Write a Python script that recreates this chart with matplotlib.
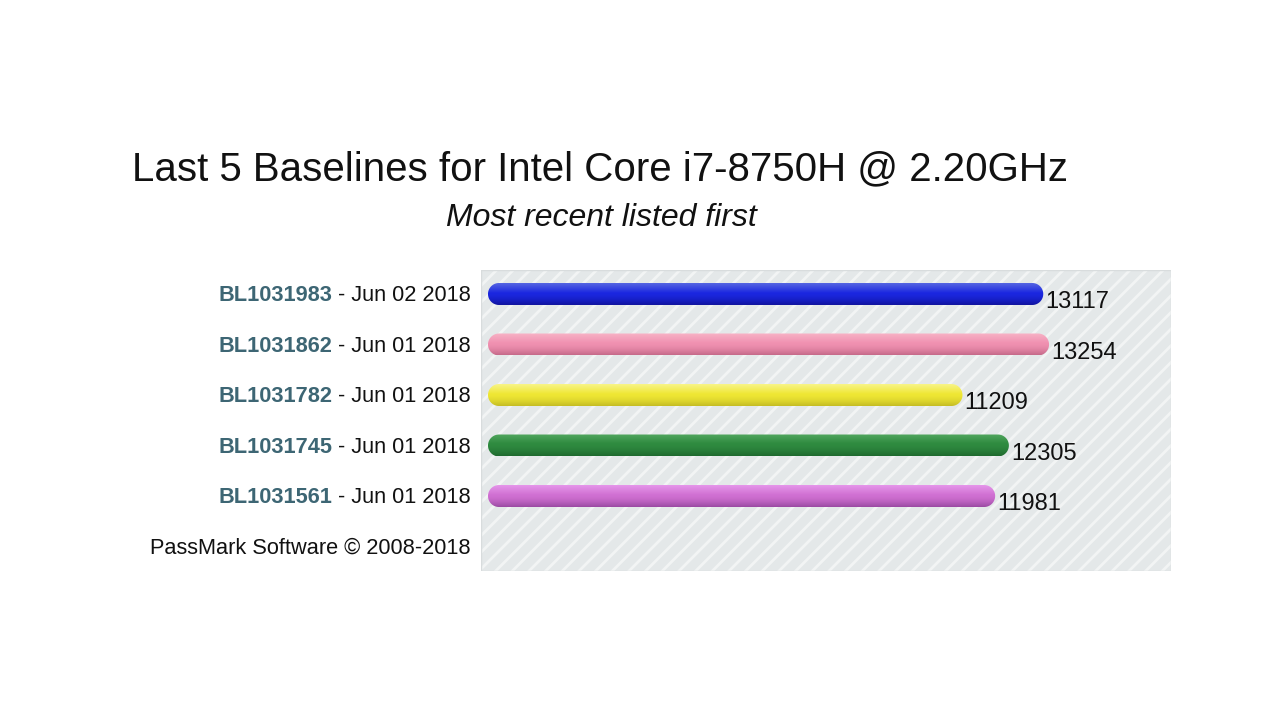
import numpy as np
import matplotlib
matplotlib.use('Agg')
import matplotlib.pyplot as plt
from matplotlib.patches import Polygon, Rectangle
from matplotlib.colors import to_rgb

# data
baselines = ['BL1031983', 'BL1031862', 'BL1031782', 'BL1031745', 'BL1031561']
dates = ['Jun 02 2018', 'Jun 01 2018', 'Jun 01 2018', 'Jun 01 2018', 'Jun 01 2018']
scores = [13117, 13254, 11209, 12305, 11981]
# (top, middle, bottom) shades for each bar
bar_shades = [
    ('#5565e2', '#1b27e0', '#10139e'),
    ('#f7b3c6', '#f091b1', '#c56a8a'),
    ('#f8f488', '#efe734', '#c4bc24'),
    ('#55aa62', '#2f8b40', '#1f6a2f'),
    ('#e596ea', '#d070d2', '#9a4aa2'),
]
footer = 'PassMark Software \u00a9 2008-2018'

plt.rcParams['font.family'] = ['Liberation Sans', 'DejaVu Sans']

fig = plt.figure(figsize=(12.8, 7.2), dpi=100)
fig.patch.set_facecolor('white')

fig.text(600 / 1280, 1 - 169 / 720, 'Last 5 Baselines for Intel Core i7-8750H @ 2.20GHz',
         fontsize=29, ha='center', va='center', color='#111111')
fig.text(601 / 1280, 1 - 218 / 720, 'Most recent listed first',
         fontsize=23, style='italic', ha='center', va='center', color='#111111')

ax = fig.add_axes([481 / 1280, 1 - 571 / 720, 690 / 1280, 301 / 720])
xmin, xmax = -165, 16135
ymin, ymax = 5.485, -0.475
ax.set_xlim(xmin, xmax)
ax.set_ylim(ymin, ymax)
ax.axis('off')

# striped background
plt.rcParams['hatch.linewidth'] = 2.0
ax.add_patch(Rectangle((0, 0), 1, 1, transform=ax.transAxes, facecolor='#e4e8e9',
                       edgecolor='#f2f4f4', hatch='//', linewidth=0, zorder=0))
ax.add_patch(Rectangle((0, 0), 1, 1, transform=ax.transAxes, facecolor='none',
                       edgecolor='#d8dcdd', linewidth=1, zorder=0.5))

# pixel scales for rounded bars
x_per_px = (xmax - xmin) / 690
y_per_px = abs(ymax - ymin) / 301
bar_h = 22 * y_per_px
rx = 11 * x_per_px
ry = bar_h / 2


def stadium(x0, x1, yc):
    a = np.linspace(np.pi / 2, 3 * np.pi / 2, 40)
    left = np.column_stack([x0 + rx + rx * np.cos(a), yc + ry * np.sin(a)])
    b = np.linspace(-np.pi / 2, np.pi / 2, 40)
    right = np.column_stack([x1 - rx + rx * np.cos(b), yc + ry * np.sin(b)])
    return np.vstack([left, right])


def gradient(shades, n=64):
    top, mid, bot = [np.array(to_rgb(c)) for c in shades]
    rows = []
    for v in np.linspace(0, 1, n):
        if v < 0.45:
            c = top + (mid - top) * (v / 0.45)
        else:
            c = mid + (bot - mid) * ((v - 0.45) / 0.55) ** 1.6
        rows.append(c)
    return np.array(rows).reshape(n, 1, 3)


for i, (val, shades) in enumerate(zip(scores, bar_shades)):
    patch = Polygon(stadium(0, val, i), closed=True, facecolor='none',
                    edgecolor='none', zorder=2)
    ax.add_patch(patch)
    im = ax.imshow(gradient(shades), extent=(0, val, i + ry, i - ry),
                   origin='upper', aspect='auto', zorder=2, interpolation='bilinear')
    im.set_clip_path(patch)
    ax.text(val + 2 * x_per_px, i + 0.16, str(val), fontsize=17,
            ha='left', va='center', color='#111111', zorder=3)

ax.set_xlim(xmin, xmax)
ax.set_ylim(ymin, ymax)

# row labels
lab_tr = ax.get_yaxis_transform()
lab_x = (471 - 481) / 690
for i, (bl, d) in enumerate(zip(baselines, dates)):
    t = ax.text(lab_x, i + 0.03, ' - ' + d, transform=lab_tr, fontsize=15.7,
                ha='right', va='center', color='#111111')
    ax.annotate(bl, xy=(0, 0), xycoords=t, ha='right', va='bottom',
                fontsize=15.7, fontweight='bold', color='#3d6674')

ax.text(lab_x, 5.03, footer, transform=lab_tr, fontsize=15.7,
        ha='right', va='center', color='#111111')

fig.savefig('out.png', dpi=100)
